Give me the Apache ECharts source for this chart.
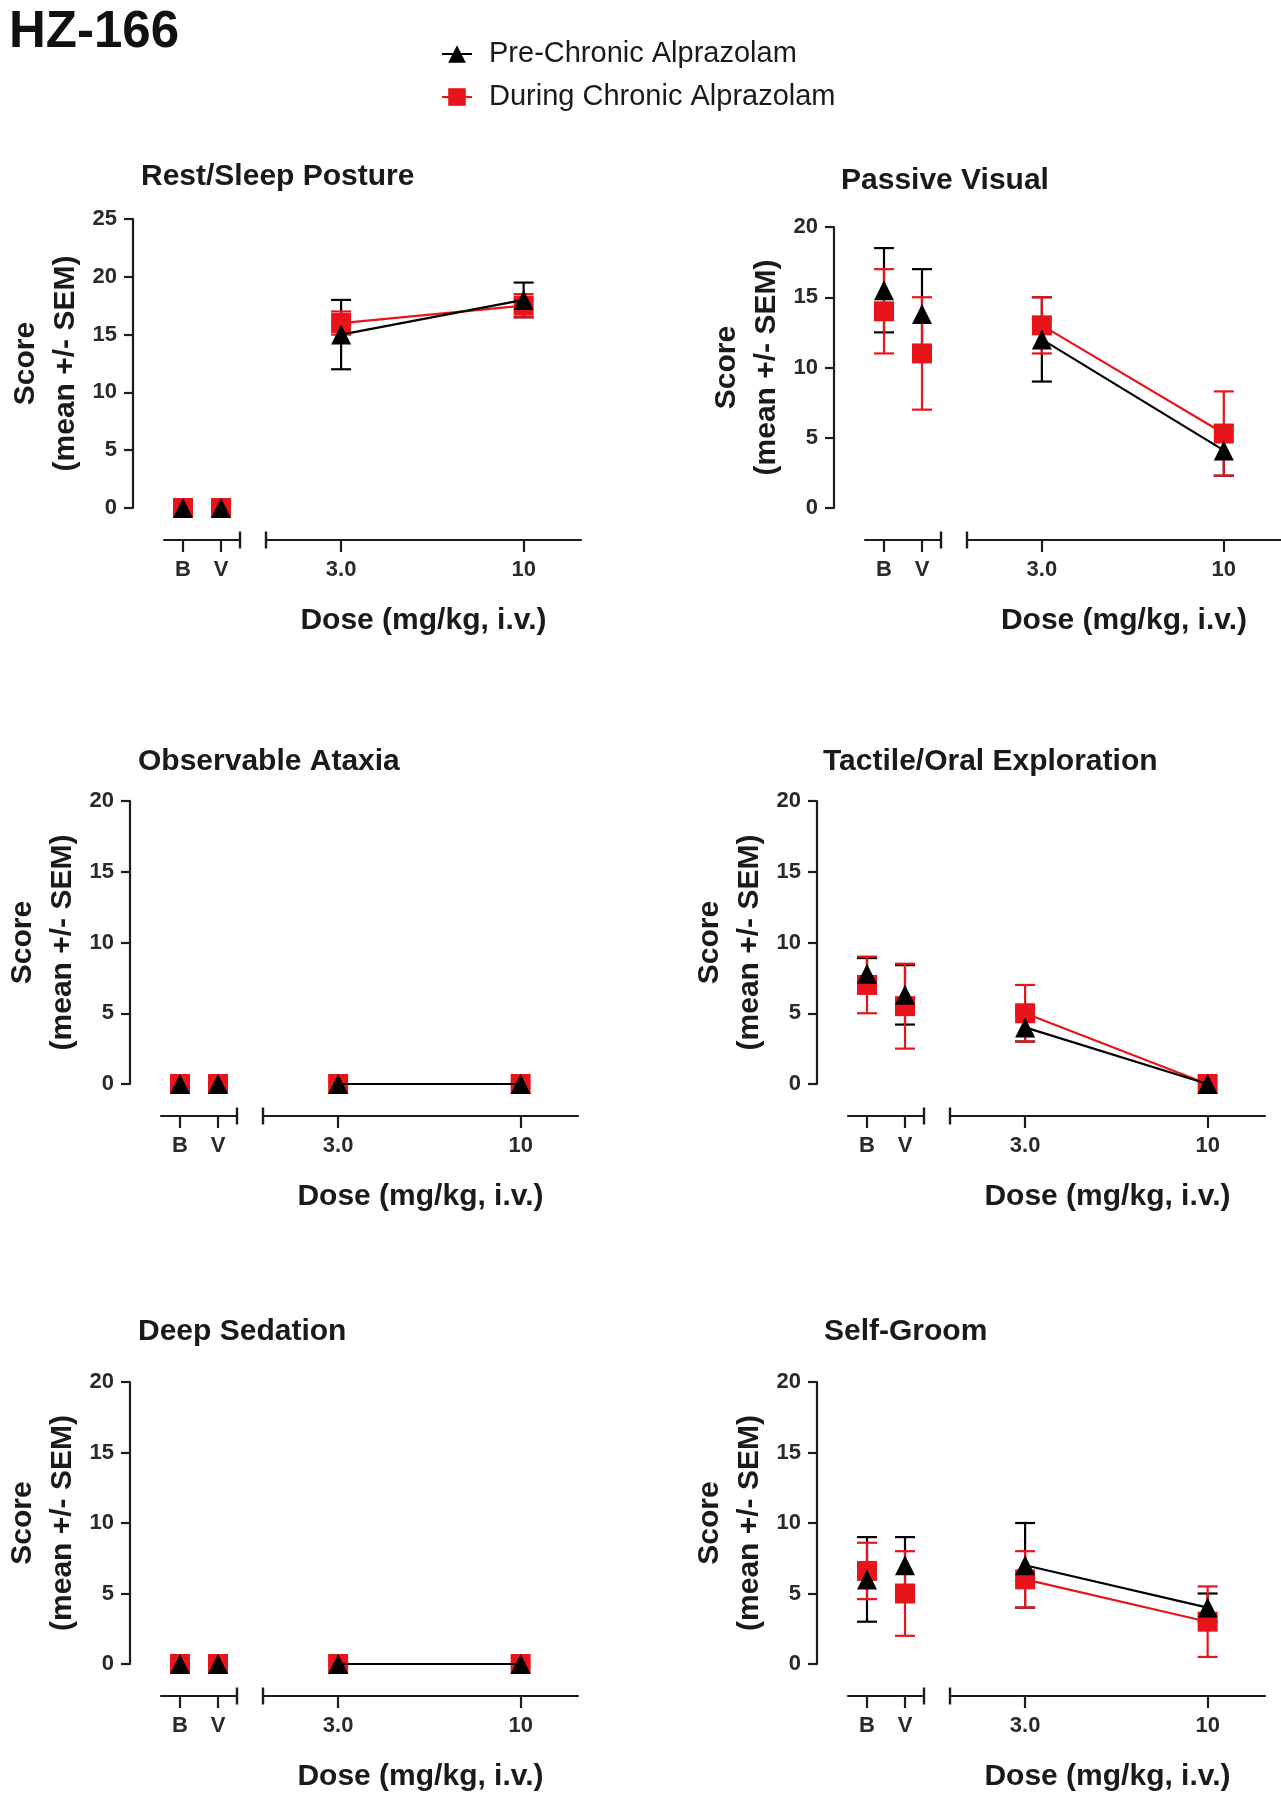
<!DOCTYPE html>
<html>
<head>
<meta charset="utf-8">
<script src="https://cdn.jsdelivr.net/npm/echarts@6/dist/echarts.min.js"></script>
<style>
  html, body { margin: 0; padding: 0; background: #ffffff; }
  #chart { width: 1281px; height: 1800px; }
</style>
</head>
<body>
<div id="chart"></div>
<script>
// ---------------- DATA ----------------
const figureLabel = 'HZ-166';
const seriesNames = ['Pre-Chronic Alprazolam', 'During Chronic Alprazolam'];
const controlLabels = ['B', 'V'];
const doses = [3.0, 10];
const doseLabels = ['3.0', '10'];
const xAxisTitle = 'Dose (mg/kg, i.v.)';
const yAxisTitle = 'Score\n(mean +/- SEM)';
const panelTitles = ['Rest/Sleep Posture', 'Passive Visual', 'Observable Ataxia',
                     'Tactile/Oral Exploration', 'Deep Sedation', 'Self-Groom'];
const yMaxes = [25, 20, 20, 20, 20, 20];
const yStep = 5;

// values ordered as [B, V, 3.0, 10]
const restPreMean = [0, 0, 15, 18];
const restPreSem = [0, 0, 3, 1.5];
const restDurMean = [0, 0, 16, 17.5];
const restDurSem = [0, 0, 1, 1];

const visualPreMean = [15.5, 13.8, 12, 4.1];
const visualPreSem = [3, 3.2, 3, 1.8];
const visualDurMean = [14, 11, 13, 5.3];
const visualDurSem = [3, 4, 2, 3];

const ataxiaPreMean = [0, 0, 0, 0];
const ataxiaPreSem = [0, 0, 0, 0];
const ataxiaDurMean = [0, 0, 0, 0];
const ataxiaDurSem = [0, 0, 0, 0];

const tactilePreMean = [7.8, 6.3, 4, 0];
const tactilePreSem = [1.1, 2.1, 1, 0];
const tactileDurMean = [7, 5.5, 5, 0];
const tactileDurSem = [2, 3, 2, 0];

const sedationPreMean = [0, 0, 0, 0];
const sedationPreSem = [0, 0, 0, 0];
const sedationDurMean = [0, 0, 0, 0];
const sedationDurSem = [0, 0, 0, 0];

const groomPreMean = [6, 7, 7, 4];
const groomPreSem = [3, 2, 3, 1];
const groomDurMean = [6.6, 5, 6, 3];
const groomDurSem = [2, 3, 2, 2.5];

// ---------------- STYLE / LAYOUT ----------------
const FONT = '"Liberation Sans", Arial, Helvetica, sans-serif';
const BLACK = '#000000';
const RED = '#e8141c';
const AXIS = '#1c1c1c';
const TXT = '#1a1a1a';

// y-axis line x, y of top tick, y of zero, title position
const layout = [
  { axisX: 133, top: 219, zero: 508, titleX: 141, titleY: 177 },
  { axisX: 834, top: 227, zero: 508, titleX: 841, titleY: 181 },
  { axisX: 130, top: 801, zero: 1084, titleX: 138, titleY: 762 },
  { axisX: 817, top: 801, zero: 1084, titleX: 823, titleY: 762 },
  { axisX: 130, top: 1382, zero: 1664, titleX: 138, titleY: 1332 },
  { axisX: 817, top: 1382, zero: 1664, titleX: 824, titleY: 1332 }
];
const LEFT_SEG = { dx: 31, w: 76 };
const RIGHT_SEG = { dx: 133, w: 315 };
const X_OFFSET = 32;

const panels = [
  { pre: [restPreMean, restPreSem], dur: [restDurMean, restDurSem] },
  { pre: [visualPreMean, visualPreSem], dur: [visualDurMean, visualDurSem] },
  { pre: [ataxiaPreMean, ataxiaPreSem], dur: [ataxiaDurMean, ataxiaDurSem] },
  { pre: [tactilePreMean, tactilePreSem], dur: [tactileDurMean, tactileDurSem] },
  { pre: [sedationPreMean, sedationPreSem], dur: [sedationDurMean, sedationDurSem] },
  { pre: [groomPreMean, groomPreSem], dur: [groomDurMean, groomDurSem] }
];

function errRenderer(color) {
  return function (params, api) {
    const x = api.value(0), lo = api.value(1), hi = api.value(2);
    if (!(hi > lo)) return null;
    const a = api.coord([x, lo]);
    const b = api.coord([x, hi]);
    const hw = 10;
    const style = { stroke: color, lineWidth: 2.2, fill: null };
    return {
      type: 'group',
      children: [
        { type: 'line', shape: { x1: a[0], y1: a[1], x2: b[0], y2: b[1] }, style: style },
        { type: 'line', shape: { x1: a[0] - hw, y1: a[1], x2: a[0] + hw, y2: a[1] }, style: style },
        { type: 'line', shape: { x1: b[0] - hw, y1: b[1], x2: b[0] + hw, y2: b[1] }, style: style }
      ]
    };
  };
}

const grid = [], xAxis = [], yAxis = [], title = [];
const lineSeries = [], scatterSeries = [], errSeries = [];

title.push({
  text: figureLabel, left: 9, top: 33, textAlign: 'left', textVerticalAlign: 'middle', padding: 0,
  textStyle: { fontFamily: FONT, fontSize: 51, fontWeight: 'bold', color: '#111' }
});

const labelStyle = { fontFamily: FONT, fontSize: 22, fontWeight: 'bold', color: '#2a2a2a' };
const nameStyle = { fontFamily: FONT, fontSize: 30, fontWeight: 'bold', color: TXT };

panels.forEach(function (p, i) {
  const L = layout[i];
  const h = L.zero - L.top;
  const gl = 2 * i, gr = 2 * i + 1;
  grid.push({ left: L.axisX + LEFT_SEG.dx, top: L.top, width: LEFT_SEG.w, height: h });
  grid.push({ left: L.axisX + RIGHT_SEG.dx, top: L.top, width: RIGHT_SEG.w, height: h });

  title.push({
    text: panelTitles[i], left: L.titleX, top: L.titleY, textAlign: 'left', textVerticalAlign: 'middle', padding: 0,
    textStyle: { fontFamily: FONT, fontSize: 30, fontWeight: 'bold', color: TXT }
  });

  const axisLineBase = { show: true, onZero: false, lineStyle: { color: AXIS, width: 2.2 } };
  const leftTicks = controlLabels.map(function (_, k) { return k; });
  xAxis.push({
    gridIndex: gl, type: 'value', min: -0.5, max: 1.5, offset: X_OFFSET,
    axisLine: Object.assign({}, axisLineBase, { symbol: ['none', 'rect'], symbolSize: [17, 2.4] }),
    axisTick: { show: true, length: 12, lineStyle: { color: AXIS, width: 2.2 }, customValues: leftTicks },
    axisLabel: { show: true, customValues: leftTicks, margin: 19, lineHeight: 22,
                 formatter: function (v) { return controlLabels[Math.round(v)]; }, ...labelStyle },
    splitLine: { show: false }
  });
  xAxis.push({
    gridIndex: gr, type: 'value', min: 0.12, max: 12.2, offset: X_OFFSET,
    name: xAxisTitle, nameLocation: 'middle', nameGap: 64, nameTextStyle: Object.assign({ lineHeight: 34 }, nameStyle),
    axisLine: Object.assign({}, axisLineBase, { symbol: ['rect', 'none'], symbolSize: [17, 2.4] }),
    axisTick: { show: true, length: 12, lineStyle: { color: AXIS, width: 2.2 }, customValues: doses },
    axisLabel: { show: true, customValues: doses, margin: 19, lineHeight: 22,
                 formatter: function (v) { const j = doses.indexOf(v); return j >= 0 ? doseLabels[j] : ''; }, ...labelStyle },
    splitLine: { show: false }
  });
  yAxis.push({
    gridIndex: gl, type: 'value', min: 0, max: yMaxes[i], interval: yStep, offset: LEFT_SEG.dx,
    name: yAxisTitle, nameLocation: 'middle', nameGap: 47, nameTextStyle: Object.assign({ lineHeight: 40 }, nameStyle),
    axisLine: axisLineBase,
    axisTick: { show: true, length: 9, lineStyle: { color: AXIS, width: 2.2 } },
    axisLabel: { show: true, margin: 16, ...labelStyle },
    splitLine: { show: false }
  });
  yAxis.push({ gridIndex: gr, type: 'value', min: 0, max: yMaxes[i], show: false, splitLine: { show: false } });

  const sets = [
    { name: seriesNames[0], d: p.pre, color: BLACK, symbol: 'triangle', size: 20, z: 6, ez: 3 },
    { name: seriesNames[1], d: p.dur, color: RED, symbol: 'rect', size: 20, z: 5, ez: 4 }
  ];
  sets.forEach(function (s) {
    const mean = s.d[0], sem = s.d[1];
    const leftPts = controlLabels.map(function (_, k) { return [k, mean[k]]; });
    const rightPts = doses.map(function (d, j) { return [d, mean[j + 2]]; });
    const leftErr = controlLabels.map(function (_, k) { return [k, mean[k] - sem[k], mean[k] + sem[k]]; });
    const rightErr = doses.map(function (d, j) { return [d, mean[j + 2] - sem[j + 2], mean[j + 2] + sem[j + 2]]; });

    lineSeries.push({
      type: 'line', name: s.name, xAxisIndex: gr, yAxisIndex: gr, data: rightPts,
      symbol: s.symbol, symbolSize: s.size, showSymbol: true,
      lineStyle: { color: s.color, width: 2.2 }, itemStyle: { color: s.color },
      z: s.z, silent: true, clip: false
    });
    scatterSeries.push({
      type: 'scatter', name: s.name, xAxisIndex: gl, yAxisIndex: gl, data: leftPts,
      symbol: s.symbol, symbolSize: s.size, itemStyle: { color: s.color, opacity: 1 },
      z: s.z, silent: true, clip: false
    });
    errSeries.push({
      type: 'custom', xAxisIndex: gl, yAxisIndex: gl, data: leftErr,
      renderItem: errRenderer(s.color), z: s.ez, silent: true, clip: false
    });
    errSeries.push({
      type: 'custom', xAxisIndex: gr, yAxisIndex: gr, data: rightErr,
      renderItem: errRenderer(s.color), z: s.ez, silent: true, clip: false
    });
  });
});

const option = {
  animation: false,
  backgroundColor: '#ffffff',
  title: title,
  legend: {
    data: seriesNames,
    orient: 'vertical',
    left: 441, top: 39, padding: 0,
    itemWidth: 30, itemHeight: 22, itemGap: 13,
    selectedMode: false,
    textStyle: { fontFamily: FONT, fontSize: 29, color: TXT, lineHeight: 30, padding: [0, 0, 0, 12] }
  },
  grid: grid,
  xAxis: xAxis,
  yAxis: yAxis,
  series: lineSeries.concat(scatterSeries, errSeries)
};

const chart = echarts.init(document.getElementById('chart'), null, { renderer: 'canvas', width: 1281, height: 1800 });
chart.setOption(option);
</script>
</body>
</html>
